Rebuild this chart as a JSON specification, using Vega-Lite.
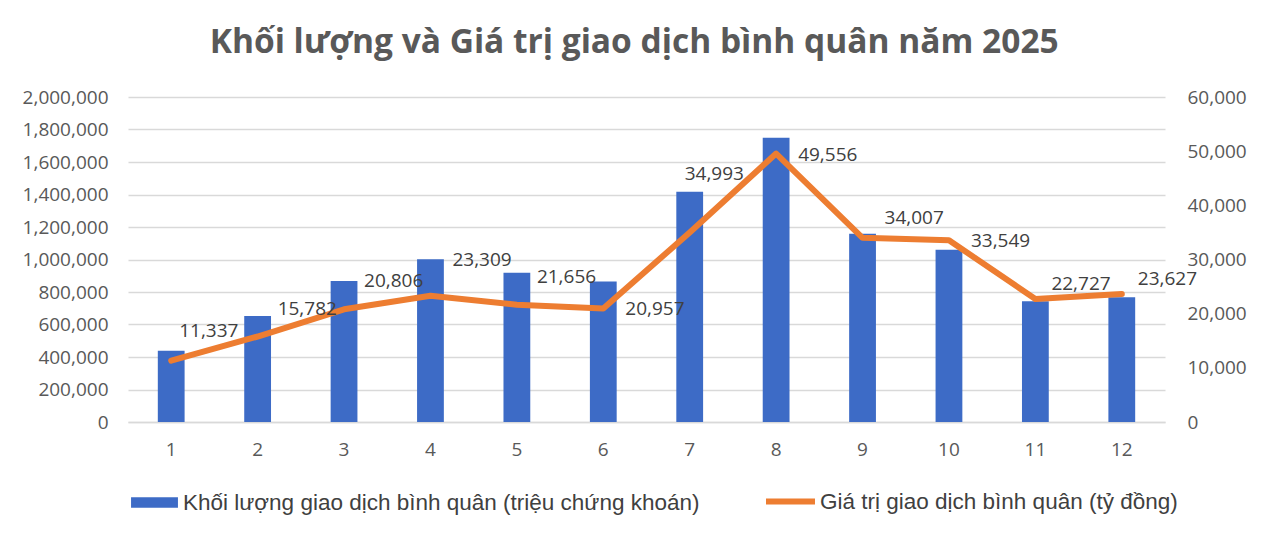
{
  "$schema": "https://vega.github.io/schema/vega-lite/v6.json",
  "autosize": {"type": "none"},
  "width": 1037,
  "height": 325,
  "padding": {"left": 128, "top": 97, "right": 99, "bottom": 117},
  "background": "white",
  "config": {
    "view": {"stroke": null},
    "font": "Open Sans",
    "axis": {"labelFont": "Open Sans", "labelFontSize": 19, "labelColor": "#595959", "ticks": false, "domain": false, "title": null},
    "legend": {"labelFont": "Liberation Sans", "labelFontSize": 22.5, "labelColor": "#404040", "title": null, "labelLimit": 700}
  },
  "title": {
    "text": "Khối lượng và Giá trị giao dịch bình quân năm 2025",
    "font": "Open Sans",
    "fontSize": 33.5,
    "fontWeight": "bold",
    "color": "#595959",
    "anchor": "middle",
    "frame": "bounds",
    "offset": 28
  },
  "data": {
    "values": [
      {"month": "1", "kl": 439000, "gt": 11337},
      {"month": "2", "kl": 652000, "gt": 15782},
      {"month": "3", "kl": 868000, "gt": 20806},
      {"month": "4", "kl": 1001000, "gt": 23309},
      {"month": "5", "kl": 919000, "gt": 21656},
      {"month": "6", "kl": 864000, "gt": 20957},
      {"month": "7", "kl": 1417000, "gt": 34993},
      {"month": "8", "kl": 1750000, "gt": 49556},
      {"month": "9", "kl": 1159000, "gt": 34007},
      {"month": "10", "kl": 1060000, "gt": 33549},
      {"month": "11", "kl": 743000, "gt": 22727},
      {"month": "12", "kl": 767000, "gt": 23627}
    ]
  },
  "encoding": {
    "x": {
      "field": "month", "type": "ordinal", "sort": null,
      "scale": {"paddingInner": 0.69, "paddingOuter": 0.345},
      "axis": {"labelAngle": 0, "labelPadding": 18, "domain": true, "domainColor": "#d9d9d9", "domainWidth": 1.5}
    }
  },
  "layer": [
    {
      "mark": {"type": "bar"},
      "encoding": {
        "y": {
          "field": "kl", "type": "quantitative",
          "scale": {"domain": [0, 2000000], "nice": false},
          "axis": {"orient": "left", "values": [0, 200000, 400000, 600000, 800000, 1000000, 1200000, 1400000, 1600000, 1800000, 2000000], "format": ",.0f", "grid": true, "gridColor": "#d9d9d9", "gridWidth": 1.5, "labelPadding": 20}
        },
        "color": {
          "datum": "Khối lượng giao dịch bình quân (triệu chứng khoán)",
          "scale": {"range": ["#3d6bc6"]},
          "legend": {"orient": "none", "legendX": 3, "legendY": 382, "symbolType": "M-1,-0.22H1V0.22H-1Z", "symbolSize": 2200, "symbolStrokeWidth": 0, "symbolOpacity": 1, "labelOffset": 5}
        }
      }
    },
    {
      "encoding": {
        "y": {
          "field": "gt", "type": "quantitative",
          "scale": {"domain": [0, 60000], "nice": false}
        }
      },
      "layer": [
        {
          "mark": {"type": "line", "strokeWidth": 6, "strokeJoin": "round", "strokeCap": "round"},
          "encoding": {
            "y": {"field": "gt", "type": "quantitative", "axis": {"orient": "right", "values": [0, 10000, 20000, 30000, 40000, 50000, 60000], "format": ",.0f", "grid": false, "labelPadding": 22}},
            "stroke": {
              "datum": "Giá trị giao dịch bình quân (tỷ đồng)",
              "scale": {"range": ["#ed7d31"]},
              "legend": {"orient": "none", "legendX": 635, "legendY": 377, "symbolType": "stroke", "symbolSize": 2400, "symbolStrokeWidth": 6, "labelOffset": 2}
            }
          }
        },
        {
          "transform": [{"filter": {"field": "month", "oneOf": ["2", "3", "5"]}}],
          "mark": {"type": "text", "align": "left", "baseline": "middle", "dx": 20, "dy": -28, "fontSize": 19, "font": "Open Sans", "color": "#404040"},
          "encoding": {"text": {"field": "gt", "type": "quantitative", "format": ","}}
        },
        {
          "transform": [{"filter": {"field": "month", "oneOf": ["4"]}}],
          "mark": {"type": "text", "align": "left", "baseline": "middle", "dx": 22, "dy": -36, "fontSize": 19, "font": "Open Sans", "color": "#404040"},
          "encoding": {"text": {"field": "gt", "type": "quantitative", "format": ","}}
        },
        {
          "transform": [{"filter": {"field": "month", "oneOf": ["1"]}}],
          "mark": {"type": "text", "align": "left", "baseline": "middle", "dx": 8, "dy": -30, "fontSize": 19, "font": "Open Sans", "color": "#404040"},
          "encoding": {"text": {"field": "gt", "type": "quantitative", "format": ","}}
        },
        {
          "transform": [{"filter": {"field": "month", "oneOf": ["6", "8", "10"]}}],
          "mark": {"type": "text", "align": "left", "baseline": "middle", "dx": 22, "dy": 1, "fontSize": 19, "font": "Open Sans", "color": "#404040"},
          "encoding": {"text": {"field": "gt", "type": "quantitative", "format": ","}}
        },
        {
          "transform": [{"filter": {"field": "month", "oneOf": ["7"]}}],
          "mark": {"type": "text", "align": "left", "baseline": "middle", "dx": -5, "dy": -58, "fontSize": 19, "font": "Open Sans", "color": "#404040"},
          "encoding": {"text": {"field": "gt", "type": "quantitative", "format": ","}}
        },
        {
          "transform": [{"filter": {"field": "month", "oneOf": ["9"]}}],
          "mark": {"type": "text", "align": "left", "baseline": "middle", "dx": 22, "dy": -20, "fontSize": 19, "font": "Open Sans", "color": "#404040"},
          "encoding": {"text": {"field": "gt", "type": "quantitative", "format": ","}}
        },
        {
          "transform": [{"filter": {"field": "month", "oneOf": ["11", "12"]}}],
          "mark": {"type": "text", "align": "left", "baseline": "middle", "dx": 16, "dy": -15, "fontSize": 19, "font": "Open Sans", "color": "#404040"},
          "encoding": {"text": {"field": "gt", "type": "quantitative", "format": ","}}
        }
      ]
    }
  ],
  "resolve": {"scale": {"y": "independent"}}
}
